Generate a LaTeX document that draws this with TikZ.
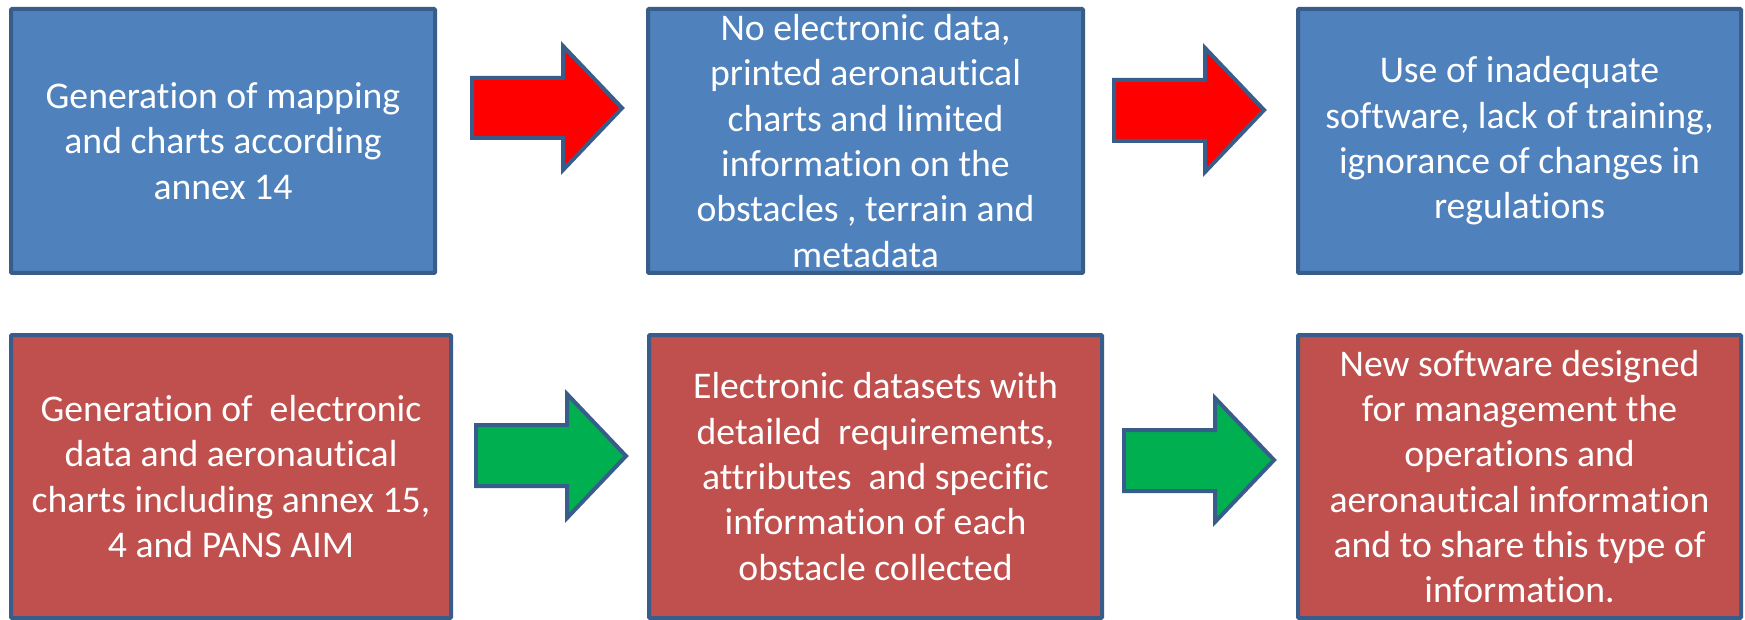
\documentclass[tikz,border=0pt]{standalone}
\usepackage{fontspec}
\setmainfont[Ligatures=NoCommon]{Carlito}
\definecolor{boxblue}{HTML}{4F81BD}
\definecolor{boxred}{HTML}{C0504D}
\definecolor{edgeblue}{HTML}{385D8A}
\definecolor{arrowred}{HTML}{FF0000}
\definecolor{arrowgreen}{HTML}{00B050}
\tikzset{
  panel/.style={draw=edgeblue, line width=4pt, rounded corners=1pt, text=white,
    align=center, inner sep=0pt, font=\fontsize{37.7}{45.3}\selectfont},
  bluepanel/.style={panel, fill=boxblue, minimum height=264pt},
  redpanel/.style={panel, fill=boxred, minimum height=283pt},
  blockarrow/.style={draw=edgeblue, line width=4pt, line join=miter},
}
\begin{document}
\begin{tikzpicture}[x=1pt, y=-1pt]
\useasboundingbox (0,0) rectangle (1745,620);
\clip (0,0) rectangle (1745,620);

% top row: present situation
\node[bluepanel, minimum width=424pt] (b1) at (223,141)
  {Generation of mapping\\and charts according\\annex 14};
\node[bluepanel, minimum width=435pt] (b2) at (865.5,141)
  {No electronic data,\\printed aeronautical\\charts and limited\\information on the\\obstacles , terrain and\\metadata};
\node[bluepanel, minimum width=443pt] (b3) at (1519.5,141)
  {Use of inadequate\\software, lack of training,\\ignorance of changes in\\regulations};

% bottom row: proposed situation
\node[redpanel, minimum width=440pt] (b4) at (231,476.5)
  {Generation of~ electronic\\data and aeronautical\\charts including annex 15,\\4 and PANS AIM};
\node[redpanel, minimum width=453pt] (b5) at (875.5,476.5)
  {Electronic datasets with\\detailed~ requirements,\\attributes~ and specific\\information of each\\obstacle collected};
\node[redpanel, minimum width=443pt] (b6) at (1519.5,476.5)
  {New software designed\\for management the\\operations and\\aeronautical information\\and to share this type of\\information.};

% block arrows between the panels
\draw[blockarrow, fill=arrowred]
  (472,78) -- (563,78) -- (563,46) -- (622,108) -- (563,170) -- (563,138) -- (472,138) -- cycle;
\draw[blockarrow, fill=arrowred]
  (1114,80) -- (1205,80) -- (1205,48) -- (1264,110) -- (1205,172) -- (1205,141) -- (1114,141) -- cycle;
\draw[blockarrow, fill=arrowgreen]
  (476,425) -- (567,425) -- (567,394) -- (626,456) -- (567,518) -- (567,486) -- (476,486) -- cycle;
\draw[blockarrow, fill=arrowgreen]
  (1124,430) -- (1215,430) -- (1215,398) -- (1274,460) -- (1215,522) -- (1215,491) -- (1124,491) -- cycle;
\end{tikzpicture}
\end{document}
